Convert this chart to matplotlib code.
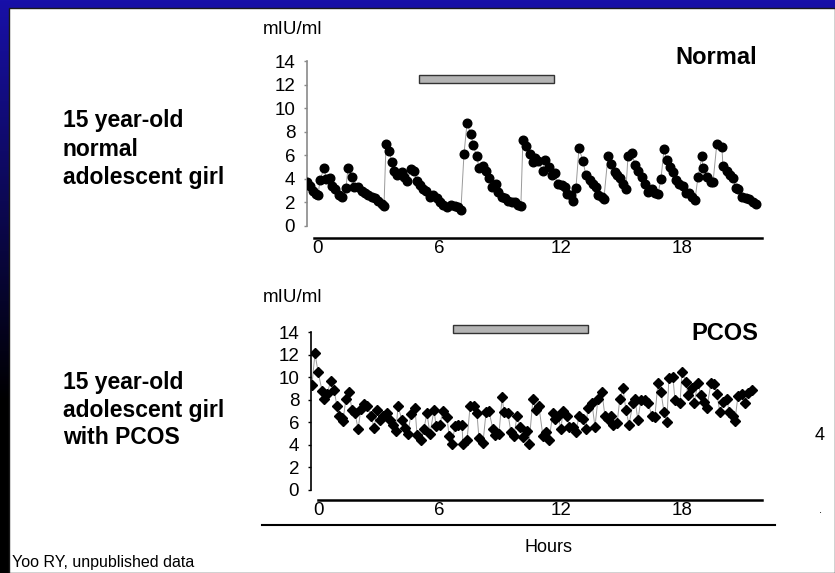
import numpy as np
import matplotlib
matplotlib.use("Agg")
import matplotlib.pyplot as plt
from matplotlib.patches import Rectangle
from matplotlib.lines import Line2D

plt.rcParams['font.family'] = ['Liberation Sans', 'DejaVu Sans']

# ---------------- data ----------------
normal_hours = [-0.54, -0.40, -0.25, -0.10, 0.00, 0.10, 0.30, 0.40, 0.59, 0.69, 0.84, 1.04, 1.19, 1.38, 1.48,
                1.68, 1.78, 1.98, 2.17, 2.32, 2.47, 2.67, 2.81, 2.96, 3.16, 3.26, 3.36, 3.51, 3.65, 3.75,
                3.90, 4.15, 4.25, 4.40, 4.59, 4.74, 4.89, 5.04, 5.19, 5.33, 5.53, 5.68, 5.88, 6.02, 6.17,
                6.37, 6.57, 6.77, 6.91, 7.06, 7.21, 7.36, 7.56, 7.65, 7.85, 7.95, 8.15, 8.30, 8.44, 8.59,
                8.79, 8.89, 9.09, 9.23, 9.38, 9.58, 9.73, 9.88, 10.02, 10.12, 10.27, 10.47, 10.62, 10.72,
                10.86, 11.11, 11.21, 11.41, 11.56, 11.70, 11.85, 12.05, 12.20, 12.30, 12.49, 12.59, 12.74,
                12.89, 13.09, 13.23, 13.43, 13.58, 13.73, 13.83, 14.02, 14.12, 14.32, 14.47, 14.67, 14.77,
                14.91, 15.06, 15.21, 15.31, 15.51, 15.65, 15.80, 16.00, 16.15, 16.30, 16.49, 16.64, 16.79,
                16.94, 17.09, 17.23, 17.38, 17.53, 17.68, 17.83, 18.02, 18.17, 18.32, 18.47, 18.62, 18.77,
                18.96, 19.01, 19.21, 19.41, 19.51, 19.70, 19.95, 20.00, 20.20, 20.35, 20.49, 20.64, 20.74,
                20.94, 21.14, 21.28, 21.48, 21.63]
normal_lh = [3.7, 3.4, 3.0, 2.7, 2.6, 3.9, 4.9, 4.0, 4.1, 3.4, 3.1, 2.6, 2.5, 3.2, 4.9,
             4.2, 3.3, 3.3, 3.0, 2.8, 2.6, 2.5, 2.4, 2.1, 1.9, 1.7, 7.0, 6.4, 5.4, 4.7,
             4.3, 4.6, 4.2, 3.8, 4.8, 4.7, 3.8, 3.5, 3.1, 3.0, 2.5, 2.6, 2.4, 2.0, 1.8,
             1.6, 1.8, 1.7, 1.6, 1.4, 6.1, 8.7, 7.8, 6.9, 5.9, 4.9, 5.1, 4.7, 4.1, 3.3,
             3.6, 2.9, 2.5, 2.4, 2.1, 2.0, 2.0, 1.8, 1.7, 7.3, 6.8, 6.1, 5.4, 5.8,
             5.5, 4.7, 5.6, 5.0, 4.3, 4.5, 3.6, 3.5, 3.3, 2.7, 2.6, 2.1, 3.2,
             6.6, 5.5, 4.3, 3.9, 3.6, 3.3, 2.6, 2.5, 2.3, 5.9, 5.3, 4.6, 4.3,
             4.1, 3.6, 3.1, 5.9, 6.2, 5.2, 4.7, 4.2, 3.6, 2.9, 3.1, 2.8, 2.7,
             4.0, 6.5, 5.6, 5.0, 4.6, 3.9, 3.6, 3.4, 2.8, 2.8, 2.5, 2.2, 4.2,
             5.9, 4.9, 4.2, 3.7, 3.7, 7.0, 6.7, 5.1, 4.7, 4.3, 4.1, 3.2, 3.1,
             2.5, 2.4, 2.3, 2.0, 1.9]

pcos_hours = [-0.30, -0.15, 0.00, 0.20, 0.30, 0.44, 0.64, 0.79, 0.94, 1.04,
              1.19, 1.23, 1.38, 1.53, 1.68, 1.83, 1.98, 2.12, 2.27, 2.42,
              2.62, 2.77, 2.91, 3.06, 3.21, 3.41, 3.56, 3.70, 3.85, 3.95,
              4.15, 4.30, 4.44, 4.59, 4.79, 4.89, 5.09, 5.23, 5.38, 5.53,
              5.73, 5.83, 6.02, 6.17, 6.37, 6.47, 6.62, 6.77, 6.91, 7.11,
              7.16, 7.36, 7.51, 7.70, 7.85, 7.95, 8.15, 8.30, 8.44, 8.64,
              8.74, 8.94, 9.09, 9.19, 9.38, 9.53, 9.68, 9.83, 9.98, 10.12,
              10.32, 10.42, 10.62, 10.77, 10.91, 11.11, 11.26, 11.41, 11.60, 11.70,
              11.85, 12.00, 12.10, 12.30, 12.40, 12.59, 12.74, 12.89, 13.09, 13.23,
              13.33, 13.53, 13.68, 13.83, 14.02, 14.17, 14.32, 14.47, 14.57, 14.77,
              14.91, 15.06, 15.21, 15.36, 15.56, 15.65, 15.80, 15.95, 16.15, 16.30,
              16.49, 16.64, 16.79, 16.94, 17.09, 17.23, 17.33, 17.53, 17.63, 17.88,
              17.98, 18.17, 18.27, 18.47, 18.57, 18.77, 18.91, 19.06, 19.21, 19.41,
              19.56, 19.70, 19.85, 20.00, 20.20, 20.30, 20.49, 20.59, 20.74, 20.94,
              21.09, 21.23, 21.43]
pcos_lh = [9.3, 12.1, 10.5, 8.8, 8.1, 8.5, 9.7, 8.9, 7.4, 6.6,
           6.4, 6.1, 8.1, 8.7, 7.1, 6.8, 5.4, 7.2, 7.6, 7.4,
           6.6, 5.5, 7.1, 6.2, 6.6, 6.8, 6.2, 5.8, 5.2, 7.4,
           6.2, 5.5, 5.0, 6.7, 7.3, 4.9, 4.4, 5.4, 6.8, 5.0,
           7.1, 5.7, 5.8, 7.0, 6.5, 4.8, 4.1, 5.7, 5.8, 5.8,
           4.1, 4.4, 7.4, 7.4, 6.8, 4.6, 4.2, 6.9, 7.0, 5.4,
           4.9, 5.0, 8.2, 6.9, 6.8, 5.1, 4.8, 6.6, 5.6, 4.7,
           5.2, 4.1, 8.1, 7.1, 7.4, 4.8, 5.1, 4.4, 6.8, 6.3,
           6.6, 5.4, 7.0, 6.6, 5.6, 5.6, 5.1, 6.6, 6.3, 5.4,
           7.3, 7.7, 5.6, 8.1, 8.7, 6.6, 6.3, 6.6, 5.8, 5.9,
           8.1, 9.0, 7.1, 5.8, 7.7, 8.1, 6.2, 8.0, 8.0, 7.7,
           6.6, 6.5, 9.5, 8.7, 6.9, 6.0, 9.9, 10.0, 8.0, 7.7,
           10.5, 9.6, 8.4, 9.0, 7.7, 9.5, 8.4, 7.8, 7.3, 9.5,
           9.4, 8.5, 6.9, 7.8, 8.1, 6.9, 6.6, 6.1, 8.3, 8.5,
           7.7, 8.6, 8.9]

normal_bar = (5.0, 11.65, 12.13, 12.8)    # start h, end h, low, high
pcos_bar = (6.65, 13.33, 13.9, 14.6)
yticks = [0, 2, 4, 6, 8, 10, 12, 14]
xticks = [0, 6, 12, 18]

# ---------------- figure ----------------
W, H = 835, 573
fig = plt.figure(figsize=(W / 100, H / 100), dpi=100)


def fx(px):
    return px / W


def fy(py):
    return 1 - py / H


# slide background
bg = fig.add_axes([0, 0, 1, 1])
bg.axis('off')
t = np.clip(np.arange(H) / 400.0, 0, 1)
blue = np.array([24, 16, 168]) / 255.0
grad = blue[None, :] * (1 - t)[:, None]
bg.imshow(grad[:, None, :], aspect='auto', extent=[0, 1, 0, 1])
bg.add_patch(Rectangle((fx(9), 0), 1 - fx(9), fy(8), transform=bg.transAxes,
                       facecolor='white', edgecolor='#1a1a1a', lw=1.0, zorder=3))
bg.set_xlim(0, 1)
bg.set_ylim(0, 1)

TICK_FS = 13.5


def make_panel(left_px, bottom_px, top_px, xlo, spine_color, out_px, xbound_lo):
    ax = fig.add_axes([fx(left_px), fy(bottom_px), fx(762) - fx(left_px), (bottom_px - top_px) / H])
    ax.patch.set_alpha(0)
    ax.set_xlim(xlo, 21.93)
    ax.set_ylim(0, 14)
    ax.spines['top'].set_visible(False)
    ax.spines['right'].set_visible(False)
    ax.spines['left'].set_color(spine_color)
    ax.spines['left'].set_linewidth(1.2)
    ax.spines['bottom'].set_position(('outward', out_px * 0.72))
    ax.spines['bottom'].set_linewidth(1.8)
    ax.spines['bottom'].set_bounds(xbound_lo, 21.93)
    ax.set_yticks(yticks)
    ax.set_yticklabels([str(v) for v in yticks])
    ax.set_xticks(xticks)
    ax.set_xticklabels([str(v) for v in xticks])
    ax.tick_params(axis='y', length=2.5, width=1, color=spine_color, pad=6, labelsize=TICK_FS)
    ax.tick_params(axis='x', length=0, pad=1.5, labelsize=TICK_FS)
    return ax


ax1 = make_panel(307, 226, 61, -0.543, '#8a8a8a', 12, -0.2)
ax1.plot(normal_hours, normal_lh, color='#9a9a9a', lw=0.7, zorder=2)
ax1.plot(normal_hours, normal_lh, 'o', color='black', ms=6.2, ls='none', zorder=3)
ax1.add_patch(Rectangle((normal_bar[0], normal_bar[2]), normal_bar[1] - normal_bar[0],
                        normal_bar[3] - normal_bar[2], facecolor='#b4b4b4', edgecolor='#333333',
                        lw=1, clip_on=False))

ax2 = make_panel(311, 490, 332, -0.346, 'black', 10, 0.0)
ax2.plot(pcos_hours, pcos_lh, color='#9a9a9a', lw=0.7, zorder=2)
ax2.plot(pcos_hours, pcos_lh, 'D', color='black', ms=5.0, ls='none', zorder=3)
ax2.add_patch(Rectangle((pcos_bar[0], pcos_bar[2]), pcos_bar[1] - pcos_bar[0],
                        pcos_bar[3] - pcos_bar[2], facecolor='#b4b4b4', edgecolor='#333333',
                        lw=1, clip_on=False))

# texts
fig.text(fx(293), fy(30), 'mIU/ml', ha='center', va='center', fontsize=13.5)
fig.text(fx(293), fy(297), 'mIU/ml', ha='center', va='center', fontsize=13.5)
fig.text(fx(757), fy(58), 'Normal', ha='right', va='center', fontsize=17, fontweight='bold')
fig.text(fx(758), fy(333), 'PCOS', ha='right', va='center', fontsize=17, fontweight='bold')

for txt, y in zip(['15 year-old', 'normal', 'adolescent girl'], [121, 150, 178]):
    fig.text(fx(63), fy(y), txt, ha='left', va='center', fontsize=16.5, fontweight='bold')
for txt, y in zip(['15 year-old', 'adolescent girl', 'with PCOS'], [383, 410, 437]):
    fig.text(fx(63), fy(y), txt, ha='left', va='center', fontsize=16.5, fontweight='bold')

fig.add_artist(Line2D([fx(262), fx(775)], [fy(525), fy(525)], color='black', lw=1.5))
fig.text(fx(548), fy(547), 'Hours', ha='center', va='center', fontsize=13)
fig.text(fx(12), fy(562), 'Yoo RY, unpublished data', ha='left', va='center', fontsize=11.5)
fig.text(fx(820), fy(436), '4', ha='center', va='center', fontsize=13)
fig.text(fx(820), fy(510), '.', ha='center', va='center', fontsize=8)

fig.savefig('out.png', dpi=100)
